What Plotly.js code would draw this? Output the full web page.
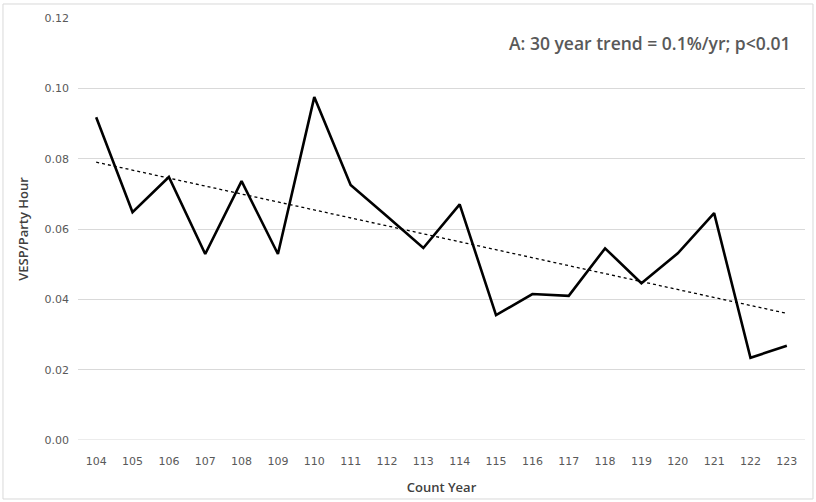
<!DOCTYPE html>
<html>
<head>
<meta charset="utf-8">
<script src="https://cdn.plot.ly/plotly-3.0.1.min.js"></script>
<style>html,body{margin:0;padding:0;background:#fff;}#chart{width:816px;height:502px;}</style>
</head>
<body>
<div id="chart"></div>
<script>
const years = ["104","105","106","107","108","109","110","111","112","113","114","115","116","117","118","119","120","121","122","123"];
const vespPerPartyHour = [0.0918,0.0648,0.0748,0.0529,0.0736,0.0529,0.0975,0.0725,0.0636,0.0546,0.0670,0.0355,0.0415,0.0410,0.0545,0.0446,0.0531,0.0645,0.0234,0.0268];
const trendYears = ["104","123"];
const trendValues = [0.0790,0.0360];
const yTicks = [0,0.02,0.04,0.06,0.08,0.10,0.12];
const yTickLabels = ["0.00","0.02","0.04","0.06","0.08","0.10","0.12"];
const annotationText = "A: 30 year trend = 0.1%/yr; p<0.01";

const data = [
  {x: years, y: vespPerPartyHour, type: 'scatter', mode: 'lines',
   line: {color: '#000000', width: 2.6}, hoverinfo: 'x+y'},
  {x: trendYears, y: trendValues, type: 'scatter', mode: 'lines',
   line: {color: '#000000', width: 1.3, dash: 'dot'}, hoverinfo: 'skip'}
];
const tickFont = {family: 'DejaVu Sans, sans-serif', size: 11, color: '#595959'};
const titleFont = {family: 'Open Sans, sans-serif', size: 13, color: '#404040', weight: 600};
const layout = {
  width: 816, height: 502,
  margin: {l: 78, r: 11, t: 18, b: 62},
  paper_bgcolor: '#ffffff', plot_bgcolor: '#ffffff',
  showlegend: false,
  xaxis: {type: 'category', categoryorder: 'array', categoryarray: years,
    range: [-0.5, 19.5], showgrid: false, zeroline: false, showline: false,
    ticks: '', tickfont: tickFont, ticklabelstandoff: 13,
    title: {text: 'Count Year', font: titleFont, standoff: 15}},
  yaxis: {range: [0, 0.12], tickvals: yTicks, ticktext: yTickLabels,
    showgrid: true, gridcolor: '#d9d9d9', gridwidth: 1, zeroline: false, showline: false,
    ticks: '', tickfont: tickFont, ticklabelstandoff: 8,
    title: {text: 'VESP/Party Hour', font: titleFont, standoff: 12}},
  shapes: [
    {type: 'line', xref: 'paper', yref: 'y', x0: 0, x1: 1, y0: 0, y1: 0, line: {color: '#d9d9d9', width: 1}, layer: 'below'},
    {type: 'rect', xref: 'paper', yref: 'paper', x0: -0.1032, x1: 1.011, y0: -0.1398, y1: 1.0332,
     line: {color: '#d9d9d9', width: 1}, fillcolor: 'rgba(0,0,0,0)'}
  ],
  annotations: [
    {text: annotationText, xref: 'paper', yref: 'paper', x: 0.983, y: 0.94, xanchor: 'right', yanchor: 'middle',
     showarrow: false, font: {family: 'Open Sans, sans-serif', size: 17.5, color: '#595959', weight: 600}}
  ]
};
Plotly.newPlot('chart', data, layout, {displayModeBar: false, staticPlot: true});
</script>
</body>
</html>
